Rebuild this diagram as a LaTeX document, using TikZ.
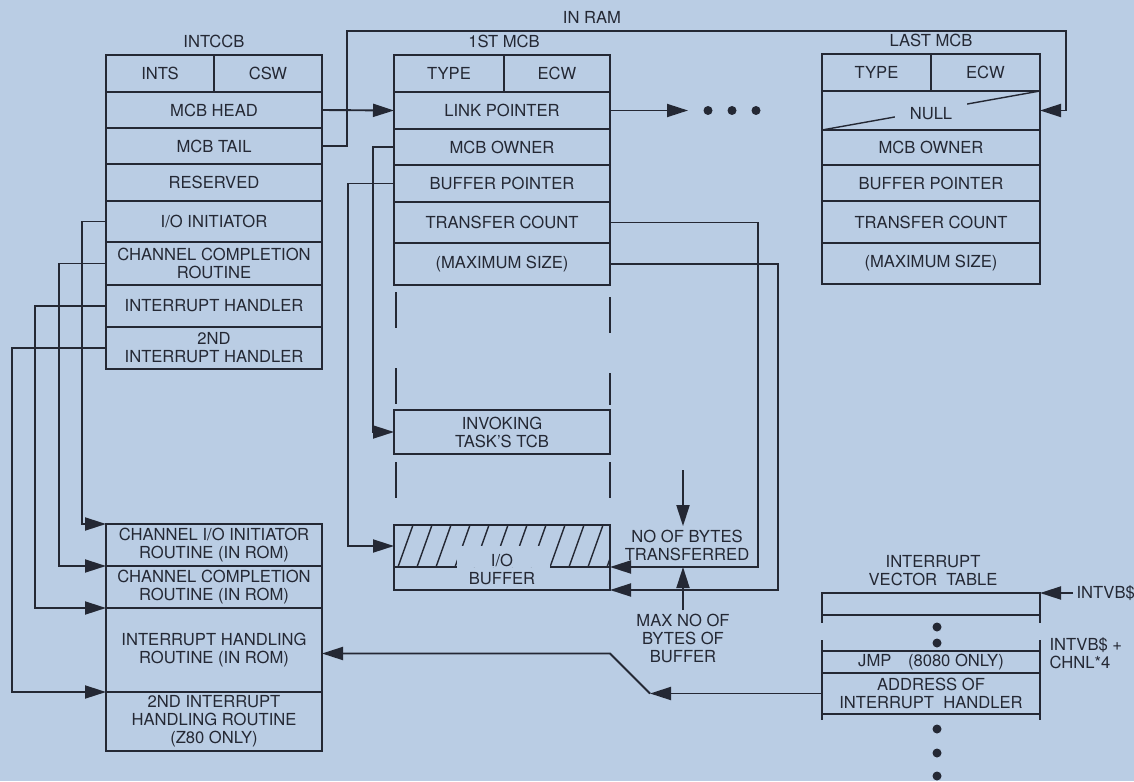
\documentclass[tikz,border=0pt]{standalone}
\usepackage{fontspec}
\setmainfont{TeX Gyre Heros}
\usetikzlibrary{arrows.meta,positioning,calc}
\definecolor{paper}{RGB}{186,205,228}
\definecolor{ink}{RGB}{36,40,52}

\begin{document}
\begin{tikzpicture}[x=1pt,y=-1pt,
    every node/.style={text=ink,align=center,font=\fontsize{16.6}{18}\selectfont},
    cell/.style={draw=ink,line width=1.9pt,inner sep=0pt,outer sep=0pt,
                 minimum width=216pt,minimum height=#1},
    cell/.default=37pt,
    half/.style={cell=37pt,minimum width=108pt},
    lcell/.style={cell=#1,minimum width=218pt},
    wire/.style={draw=ink,line width=1.9pt},
    dsh/.style={wire,dash pattern=on 36pt off 40pt},
    arr/.style={wire,-{Triangle[length=21pt,width=13pt]}}]
  \path[use as bounding box,fill=paper] (0,0) rectangle (1134,781);

  % INTCCB
  \node[half,anchor=north west] (ints) at (106,55) {INTS};
  \node[half,right=0pt of ints] (csw) {CSW};
  \node[cell=36pt,below=0pt of ints.south east] (head) {MCB HEAD};
  \node[cell=36pt,below=0pt of head] (tail) {MCB TAIL};
  \node[cell=37pt,below=0pt of tail] (resv) {RESERVED};
  \node[cell=41pt,below=0pt of resv] (ioi) {I/O INITIATOR};
  \node[cell=43pt,below=0pt of ioi] (ccr) {CHANNEL COMPLETION\\ROUTINE};
  \node[cell=42pt,below=0pt of ccr] (ih) {INTERRUPT HANDLER};
  \node[cell=42pt,below=0pt of ih] (ih2) {2ND\\INTERRUPT HANDLER};
  \node[above=4pt of ints.north east] (intccb) {INTCCB};

  % first MCB
  \node[half,minimum width=110pt,anchor=north west] (type1) at (394,55) {TYPE};
  \node[half,minimum width=106pt,right=0pt of type1] (ecw1) {ECW};
  \node[cell=37pt,anchor=north west] (link) at (type1.south west) {LINK POINTER};
  \node[cell=36pt,below=0pt of link] (own1) {MCB OWNER};
  \node[cell=37pt,below=0pt of own1] (bufp1) {BUFFER POINTER};
  \node[cell=41pt,below=0pt of bufp1] (cnt1) {TRANSFER COUNT};
  \node[cell=42pt,below=0pt of cnt1] (max1) {(MAXIMUM SIZE)};
  \node[above=4pt of type1.north east] (mcb1) {1ST MCB};

  % last MCB
  \node[half,minimum width=109pt,anchor=north west] (type2) at (822,54) {TYPE};
  \node[half,minimum width=109pt,right=0pt of type2] (ecw2) {ECW};
  \node[lcell=39pt,anchor=north west] (null2) at (type2.south west) {};
  \node[lcell=35pt,below=0pt of null2] (own2) {MCB OWNER};
  \node[lcell=36pt,below=0pt of own2] (bufp2) {BUFFER POINTER};
  \node[lcell=42pt,below=0pt of bufp2] (cnt2) {TRANSFER COUNT};
  \node[lcell=41pt,below=0pt of cnt2] (max2) {(MAXIMUM SIZE)};
  \node[above=4pt of type2.north east] (mcb2) {LAST MCB};
  \draw[wire,line width=1.4pt] (null2.south west) -- (null2.north east);
  \node[fill=paper,inner xsep=15pt,inner ysep=4pt] (nulltxt) at ($(null2.center)+(0,3)$) {NULL};

  % routines in ROM
  \node[cell=42pt,anchor=north west] (rioi) at (106,524) {CHANNEL I/O INITIATOR\\ROUTINE (IN ROM)};
  \node[cell=42pt,below=0pt of rioi] (rccr) {CHANNEL COMPLETION\\ROUTINE (IN ROM)};
  \node[cell=84pt,below=0pt of rccr] (rih) {INTERRUPT HANDLING\\ROUTINE (IN ROM)};
  \node[cell=59pt,below=0pt of rih] (rih2) {2ND INTERRUPT\\HANDLING ROUTINE\\(Z80 ONLY)};

  % TCB and buffer
  \node[cell=44pt,anchor=north west] (tcb) at (394,410) {INVOKING\\TASK'S TCB};
  \node[cell=42pt,draw=none,anchor=north west] (bufhi) at (394,525) {};
  \node[cell=23pt,draw=none,below=0pt of bufhi] (buflo) {};
  \begin{scope}
    \clip (bufhi.north west) rectangle (bufhi.south east);
    \foreach \h in {-1,...,11}
      \draw[wire,line width=1.4pt] ([xshift=4+19*\h]bufhi.south west) -- ++(15,-42);
  \end{scope}
  \fill[paper] ($(bufhi.south)+(-45,-21)$) rectangle ($(bufhi.south)+(48,0)$);
  \draw[wire] (bufhi.north west) rectangle (buflo.south east);
  \draw[wire] (bufhi.south west) -- ++(63,0);
  \draw[wire] (bufhi.south east) -- ++(-60,0);
  \node (buftxt) at ($(bufhi.south)+(0,2)$) {I/O\\BUFFER};

  \draw[dsh] ([shift={(2,7)}]max1.south west) -- ([shift={(2,-5)}]tcb.north west);
  \draw[dsh] ([shift={(0,12)}]max1.south east) -- ([shift={(0,-5)}]tcb.north east);
  \draw[dsh] ([shift={(2,8)}]tcb.south west) -- ++(0,36);
  \draw[dsh] ([shift={(0,8)}]tcb.south east) -- ++(0,36);

  \node (nobytes) at (687,545) {NO OF BYTES\\TRANSFERRED};
  \node (maxno) at (683,638) {MAX NO OF\\BYTES OF\\BUFFER};
  \coordinate (trtop) at (683,470);

  % interrupt vector table
  \node (ivt) at (933,571) {INTERRUPT\\VECTOR\ \ TABLE};
  \node[lcell=22pt,anchor=north west] (vt0) at (822,593) {};
  \node[lcell=22pt,anchor=north west] (jmp) at (822,651) {JMP\quad(8080 ONLY)};
  \node[lcell=41pt,below=0pt of jmp] (addr) {ADDRESS OF\\INTERRUPT\ \ HANDLER};
  \draw[wire] (vt0.south west) -- ++(0,8);
  \draw[wire] (vt0.south east) -- ++(0,8);
  \draw[wire] (jmp.north west) -- ++(0,-11);
  \draw[wire] (jmp.north east) -- ++(0,-11);
  \draw[wire] (addr.south west) -- ++(0,6);
  \draw[wire] (addr.south east) -- ++(0,6);
  \foreach \dy in {627,643,729,753,776}
    \fill[ink] (937,\dy) circle (4.5pt);
  \node[anchor=west] (intvb) at (1073,593) {INTVB\$};
  \node[anchor=west,align=left] (chnl) at (1046,653) {INTVB\$ +\\CHNL*4};

  % connectors
  \node (inram) at (592,17) {IN RAM};
  \coordinate (ramtop) at (1066,31);
  \coordinate (more) at ([xshift=78]link.east);
  \coordinate (swx) at (650,0);
  \draw[arr] (head.east) -- (link.west);
  \draw[arr] (tail.east) -- ++(25,0) |- (ramtop) |- (null2.east);
  \draw[arr] (link.east) -- (more);
  \foreach \k in {0,1,2}
    \fill[ink] ([xshift=20+24*\k]more) circle (4.5pt);
  \draw[arr] (own1.west) -- ++(-21,0) |- (tcb.west);
  \draw[arr] (bufp1.west) -- ++(-46,0) |- (bufhi.west);
  \draw[arr] (cnt1.east) -- ++(148,0) |- (bufhi.south east);
  \draw[arr] (max1.east) -- ++(168,0) |- (buflo.south east);
  \draw[arr] (trtop) -- (trtop |- nobytes.north);
  \draw[arr] (maxno.north) -- (maxno.north |- bufhi.south);
  \draw[arr] (ioi.west) -- ++(-24,0) |- (rioi.north west);
  \draw[arr] (ccr.west) -- ++(-47,0) |- (rioi.south west);
  \draw[arr] (ih.west) -- ++(-71,0) |- (rccr.south west);
  \draw[arr] (ih2.west) -- ++(-94,0) |- (rih.south west);
  \draw[arr] (intvb.west) -- (vt0.north east);
  \draw[arr] (addr.west) -- (addr.west -| swx);
  \draw[arr] (addr.west -| swx) -- ++(-40,-40) coordinate (swB) -- (swB -| rih.east);
\end{tikzpicture}
\end{document}
